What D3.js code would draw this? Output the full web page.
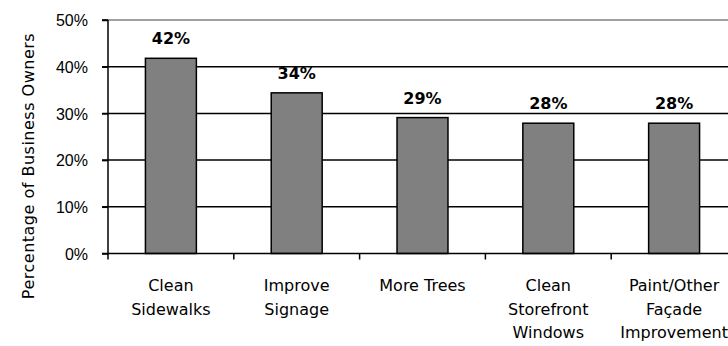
<!DOCTYPE html>
<html><head><meta charset="utf-8">
<script src="https://cdn.jsdelivr.net/npm/d3@7"></script>
<style>
body{margin:0;background:#fff;}
svg{display:block;font-family:"DejaVu Sans",sans-serif;}
</style></head>
<body><svg id="c" width="728" height="346"></svg>
<script>
const categories = [["Clean","Sidewalks"],["Improve","Signage"],["More Trees"],["Clean","Storefront","Windows"],["Paint/Other","Façade","Improvement"]];
const values = [41.8, 34.4, 29.1, 27.9, 27.9];
const labels = ["42%","34%","29%","28%","28%"];
const yTicks = [0,10,20,30,40,50];
const yTitle = "Percentage of Business Owners";

const svg = d3.select("#c");
const x0 = 108, yBase = 253.5, yTop = 20;
const x = d3.scaleBand().domain(d3.range(categories.length)).range([x0, x0 + 5*125.8]).paddingInner(0.595).paddingOuter(0.2975);
const y = d3.scaleLinear().domain([0,50]).range([yBase, yTop]);

// gridlines
svg.append("g").selectAll("line").data(yTicks.filter(d=>d>0 && d<50)).join("line")
  .attr("x1", 102).attr("x2", 728).attr("y1", d=>y(d)).attr("y2", d=>y(d))
  .attr("stroke","#000").attr("stroke-width",1.5);
// top line gray
svg.append("line").attr("x1",102).attr("x2",728).attr("y1",y(50)).attr("y2",y(50))
  .attr("stroke","#808080").attr("stroke-width",1.5);
svg.append("line").attr("x1",102).attr("x2",108).attr("y1",y(50)).attr("y2",y(50))
  .attr("stroke","#000").attr("stroke-width",1.5);

// bars
svg.append("g").selectAll("rect").data(values).join("rect")
  .attr("x",(d,i)=>x(i)).attr("width",x.bandwidth())
  .attr("y",d=>y(d)).attr("height",d=>yBase-y(d))
  .attr("fill","#808080").attr("stroke","#000").attr("stroke-width",1.5);

// y axis
const yAxis = d3.axisLeft(y).tickValues(yTicks).tickFormat(d=>d+"%").tickSize(6).tickPadding(8);
const ga = svg.append("g").attr("transform",`translate(${x0},0)`).call(yAxis);
ga.select(".domain").remove();
ga.selectAll(".tick line").attr("stroke","#000").attr("stroke-width",1.5);
ga.selectAll("text").attr("font-size",16).attr("fill","#000").attr("dy","0.35em").attr("x",-20).style("font-family","inherit");
svg.append("line").attr("x1",x0).attr("x2",x0).attr("y1",yTop).attr("y2",yBase)
  .attr("stroke","#000").attr("stroke-width",1.5);

// x axis line and ticks
svg.append("line").attr("x1",102).attr("x2",728).attr("y1",yBase).attr("y2",yBase)
  .attr("stroke","#000").attr("stroke-width",1.5);
const step = x.step();
svg.append("g").selectAll("line").data(d3.range(categories.length+1)).join("line")
  .attr("x1",i=>x0+i*step).attr("x2",i=>x0+i*step).attr("y1",yBase).attr("y2",yBase+6)
  .attr("stroke","#000").attr("stroke-width",1.5);

// value labels
svg.append("g").selectAll("text").data(values).join("text")
  .attr("x",(d,i)=>x(i)+x.bandwidth()/2).attr("y",d=>y(d)-14)
  .attr("text-anchor","middle").attr("font-size",16).attr("font-weight","bold")
  .text((d,i)=>labels[i]);

// category labels
const cg = svg.append("g").selectAll("text").data(categories).join("text")
  .attr("text-anchor","middle").attr("font-size",16)
  .attr("x",(d,i)=>x(i)+x.bandwidth()/2).attr("y",291);
cg.selectAll("tspan").data(d=>d).join("tspan")
  .attr("x",function(){return this.parentNode.getAttribute("x");})
  .attr("dy",(d,i)=>i===0?0:23.5).text(d=>d);

// y title
svg.append("text").attr("transform","translate(34,166) rotate(-90)")
  .attr("text-anchor","middle").attr("font-size",16).attr("letter-spacing",0.5).text(yTitle);
</script></body></html>
